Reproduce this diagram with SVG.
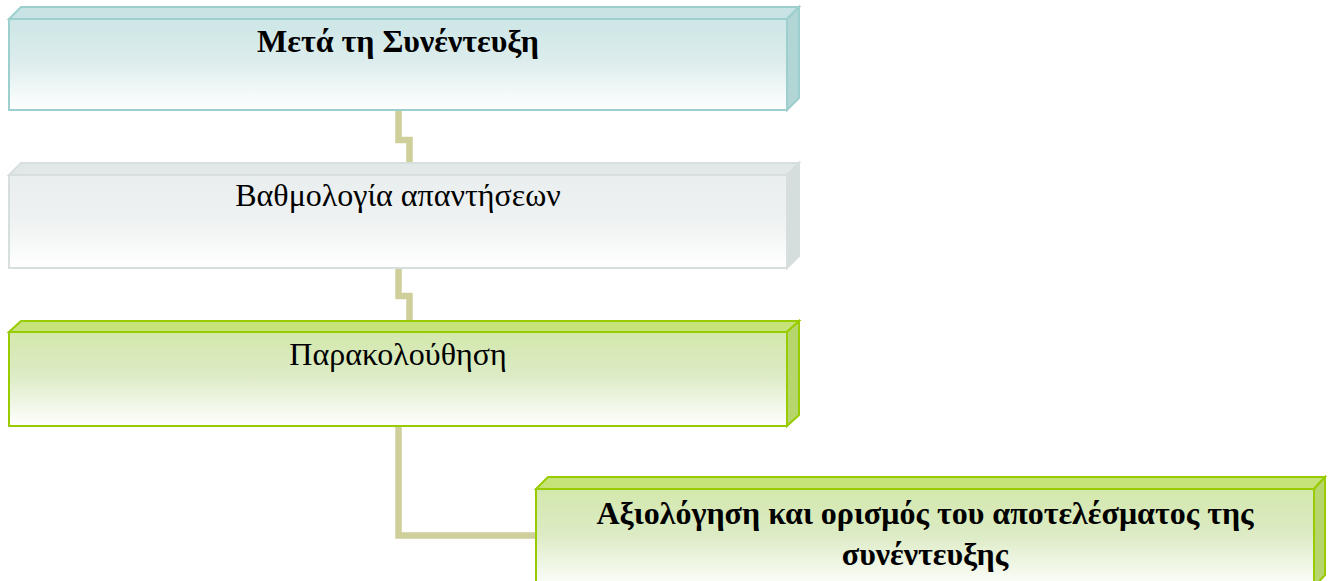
<svg xmlns="http://www.w3.org/2000/svg" width="1333" height="581" viewBox="0 0 1333 581">
<defs>
<linearGradient id="gTeal" x1="0" y1="0" x2="0" y2="1">
<stop offset="0" stop-color="#cde6e6"/><stop offset="0.45" stop-color="#dcecec"/><stop offset="1" stop-color="#ffffff"/>
</linearGradient>
<linearGradient id="gGrey" x1="0" y1="0" x2="0" y2="1">
<stop offset="0" stop-color="#e9eeee"/><stop offset="0.45" stop-color="#eef1f1"/><stop offset="1" stop-color="#ffffff"/>
</linearGradient>
<linearGradient id="gGreen" x1="0" y1="0" x2="0" y2="1">
<stop offset="0" stop-color="#d3e8ac"/><stop offset="0.45" stop-color="#dcebc4"/><stop offset="1" stop-color="#ffffff"/>
</linearGradient>
<style>
.conn{fill:none;stroke:#cfcf9b;stroke-width:6.5;stroke-linejoin:miter}
.t{font-family:"Liberation Serif","Times New Roman",serif;font-size:32px;fill:#000;text-anchor:middle}
.b{font-weight:bold}
.tealF{fill:url(#gTeal);stroke:#9dcfcf;stroke-width:2}
.tealT{fill:#c8e3e3;stroke:#9dcfcf;stroke-width:2}
.tealS{fill:#b2d6d6;stroke:#9dcfcf;stroke-width:2}
.greyF{fill:url(#gGrey);stroke:#d6dede;stroke-width:2}
.greyT{fill:#e2e8e8;stroke:#d6dede;stroke-width:2}
.greyS{fill:#d6dddd;stroke:#d6dede;stroke-width:2}
.grnF{fill:url(#gGreen);stroke:#99cc00;stroke-width:2}
.grnT{fill:#c6e37a;stroke:#99cc00;stroke-width:2}
.grnS{fill:#b6d56c;stroke:#99cc00;stroke-width:2}
</style>
</defs>
<g id="connectors">
<polyline class="conn" points="398.5,110 398.5,140 409.5,140 409.5,164"/>
<polyline class="conn" points="398.5,268 398.5,296 409.5,296 409.5,322"/>
<polyline class="conn" points="398.5,426 398.5,535.5 537,535.5"/>
</g>
<g id="node1">
<polygon class="tealT" points="9,19 21,7 799,7 787,19"/>
<polygon class="tealS" points="787,19 799,7 799,98 787,110"/>
<rect class="tealF" x="9" y="19" width="778" height="91"/>
<text class="t b" x="398" y="52">Μετά τη Συνέντευξη</text>
</g>
<g id="node2">
<polygon class="greyT" points="9,175 21,163 799,163 787,175"/>
<polygon class="greyS" points="787,175 799,163 799,256 787,268"/>
<rect class="greyF" x="9" y="175" width="778" height="93"/>
<text class="t" x="398" y="206">Βαθμολογία απαντήσεων</text>
</g>
<g id="node3">
<polygon class="grnT" points="9,332 21,321 799,321 787,332"/>
<polygon class="grnS" points="787,332 799,321 799,415 787,426"/>
<rect class="grnF" x="9" y="332" width="778" height="94"/>
<text class="t" x="398" y="365">Παρακολούθηση</text>
</g>
<g id="node4">
<polygon class="grnT" points="536,489 548,477 1325,477 1314,489"/>
<polygon class="grnS" points="1314,489 1325,477 1325,575 1314,587"/>
<rect class="grnF" x="536" y="489" width="778" height="100"/>
<text class="t b" x="925" y="524">Αξιολόγηση και ορισμός του αποτελέσματος της</text>
<text class="t b" x="925" y="565">συνέντευξης</text>
</g>
</svg>
